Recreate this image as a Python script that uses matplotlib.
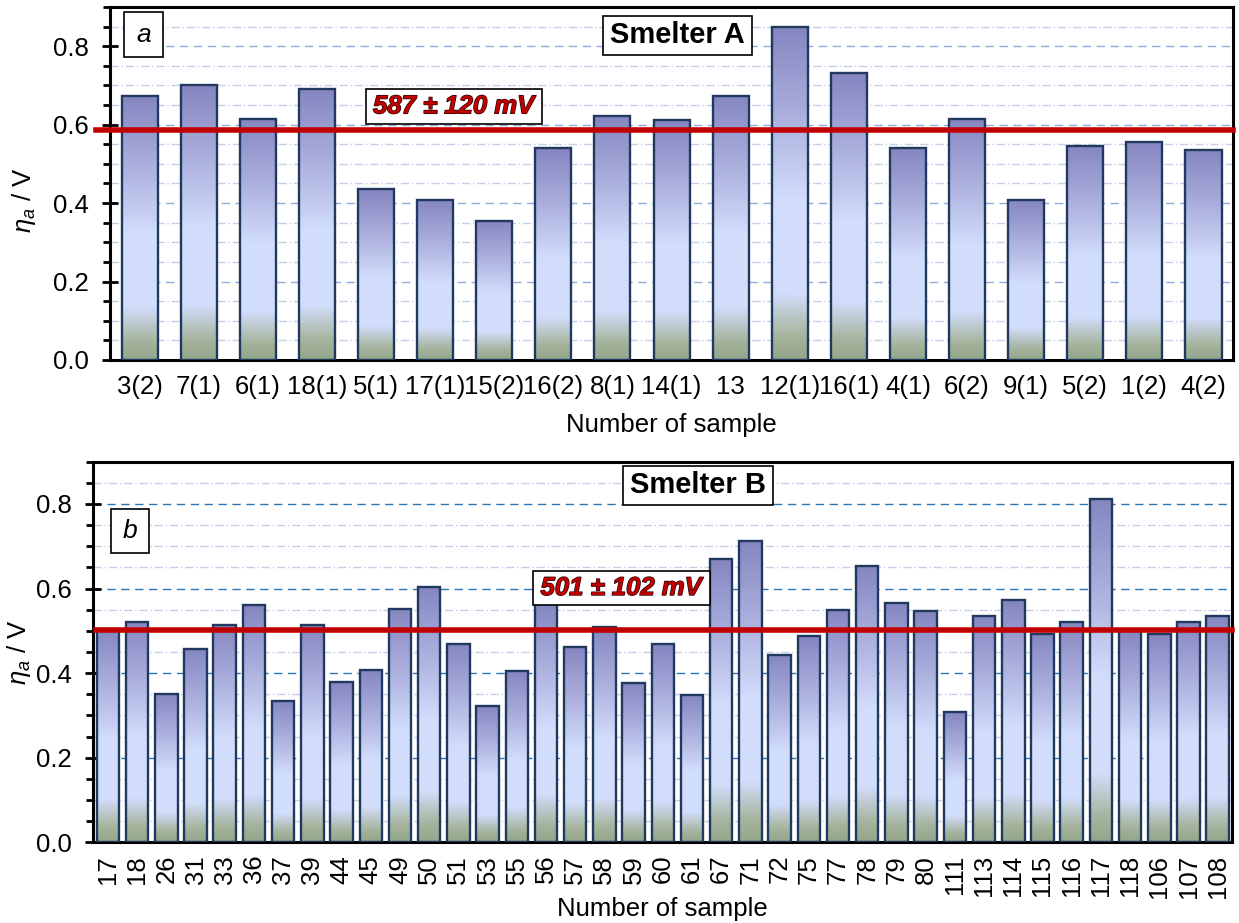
import numpy as np
import matplotlib
matplotlib.use('Agg')
import matplotlib.pyplot as plt
from matplotlib.colors import LinearSegmentedColormap
from matplotlib.patches import Rectangle
from matplotlib.ticker import MultipleLocator
import matplotlib.patheffects as pe

plt.rcParams['font.family'] = ['Liberation Sans', 'DejaVu Sans']
plt.rcParams['mathtext.fontset'] = 'custom'
plt.rcParams['mathtext.rm'] = 'Liberation Sans'
plt.rcParams['mathtext.it'] = 'Liberation Sans:italic'

# anode overvoltage per sample, V
samples_a = ['3(2)', '7(1)', '6(1)', '18(1)', '5(1)', '17(1)', '15(2)', '16(2)',
             '8(1)', '14(1)', '13', '12(1)', '16(1)', '4(1)', '6(2)', '9(1)',
             '5(2)', '1(2)', '4(2)']
eta_a = [0.673, 0.700, 0.615, 0.690, 0.436, 0.408, 0.355, 0.540, 0.622, 0.611,
         0.674, 0.849, 0.732, 0.540, 0.615, 0.408, 0.546, 0.555, 0.535]
mean_a = 0.587
label_mean_a = '587 ± 120 mV'

samples_b = ['17', '18', '26', '31', '33', '36', '37', '39', '44', '45', '49', '50',
             '51', '53', '55', '56', '57', '58', '59', '60', '61', '67', '71', '72',
             '75', '77', '78', '79', '80', '111', '113', '114', '115', '116', '117',
             '118', '106', '107', '108']
eta_b = [0.505, 0.521, 0.350, 0.458, 0.515, 0.560, 0.334, 0.515, 0.378, 0.408,
         0.552, 0.604, 0.470, 0.322, 0.404, 0.565, 0.463, 0.510, 0.376, 0.468,
         0.348, 0.671, 0.712, 0.444, 0.487, 0.550, 0.654, 0.567, 0.546, 0.307,
         0.536, 0.572, 0.492, 0.522, 0.812, 0.503, 0.492, 0.522, 0.534]
mean_b = 0.501
label_mean_b = '501 ± 102 mV'

bar_cmap = LinearSegmentedColormap.from_list('bar', [
    (0.00, '#93a68a'), (0.07, '#a5b49d'), (0.20, '#d2ddfb'),
    (0.48, '#d2ddfb'), (0.72, '#adb2df'), (1.00, '#8586c1')])
grad = np.linspace(0, 1, 256).reshape(-1, 1)

FS = 18.5


def gradient_bars(ax, values, width):
    x = np.arange(len(values))
    bars = ax.bar(x, values, width=width, facecolor='none',
                  edgecolor='#22395f', linewidth=1.7, zorder=3)
    for b in bars:
        im = ax.imshow(grad, cmap=bar_cmap, origin='lower', aspect='auto',
                       extent=(b.get_x(), b.get_x() + b.get_width(), 0, b.get_height()),
                       zorder=2, interpolation='bilinear')
        im.set_clip_path(b)
    return bars


def label_box(ax, x0, x1, y0, y1, text, **kw):
    ax.add_patch(Rectangle((x0, y0), x1 - x0, y1 - y0, transform=ax.transAxes,
                           facecolor='white', edgecolor='black', linewidth=1.2,
                           zorder=6, clip_on=False))
    return ax.text((x0 + x1) / 2, (y0 + y1) / 2, text, transform=ax.transAxes,
                   ha='center', va='center', zorder=7, **kw)


def style_axes(ax, labels, major_grid, rotation=0, pad=12):
    ax.set_ylim(0, 0.9)
    ax.set_xlim(-0.5, len(labels) - 0.5)
    ax.yaxis.set_major_locator(MultipleLocator(0.2))
    ax.yaxis.set_minor_locator(MultipleLocator(0.05))
    ax.yaxis.set_major_formatter(matplotlib.ticker.FormatStrFormatter('%.1f'))
    ax.set_xticks(np.arange(len(labels)))
    ax.set_xticklabels(labels, rotation=rotation)
    ax.tick_params(axis='x', length=0, pad=pad, labelsize=FS)
    ax.tick_params(axis='y', which='major', direction='inout', length=11,
                   width=2, pad=10, labelsize=FS)
    ax.tick_params(axis='y', which='minor', direction='out', length=5, width=2)
    for s in ax.spines.values():
        s.set_linewidth(2.2)
    ax.grid(axis='y', which='major', color=major_grid, linestyle=(0, (6, 4)),
            linewidth=1.0, zorder=0)
    ax.grid(axis='y', which='minor', color='#c3d0e6', linestyle=(0, (6, 2, 1, 2)),
            linewidth=1.0, zorder=0)
    ax.set_axisbelow(True)


fig = plt.figure(figsize=(12.39, 9.23), dpi=100)
ax1 = fig.add_axes([0.0888, 0.6100, 0.9064, 0.3824])
ax2 = fig.add_axes([0.0753, 0.0874, 0.9193, 0.4124])

mean_style = dict(fontsize=18.5, fontweight='bold', fontstyle='italic',
                  color='#c00000',
                  path_effects=[pe.withStroke(linewidth=1.0, foreground='#2a0505')])

# panel a: smelter A
gradient_bars(ax1, eta_a, 0.61)
style_axes(ax1, samples_a, '#8faadc', pad=11)
ax1.axhline(mean_a, xmin=-0.0125, xmax=1, color='#c00000', linewidth=4,
            zorder=4, clip_on=False)
label_box(ax1, 0.0125, 0.0472, 0.8584, 0.9858, 'a', fontsize=19, fontstyle='italic')
label_box(ax1, 0.4387, 0.5713, 0.8640, 0.9754, 'Smelter A', fontsize=21,
          fontweight='bold')
label_box(ax1, 0.2277, 0.3847, 0.6686, 0.7686, label_mean_a, **mean_style)
ax1.set_ylabel(r'$\eta_a$ / V', fontsize=FS)
ax1.yaxis.set_label_coords(-0.064, 0.453)
ax1.set_xlabel('Number of sample', fontsize=FS, va='top')
ax1.xaxis.set_label_coords(0.5, -0.150)

# panel b: smelter B
gradient_bars(ax2, eta_b, 0.77)
style_axes(ax2, samples_b, '#2e75b6', rotation=90, pad=9)
ax2.axhline(mean_b, xmin=0.0025, xmax=1, color='#c00000', linewidth=4,
            zorder=4, clip_on=False)
label_box(ax2, 0.0155, 0.0489, 0.7601, 0.8765, 'b', fontsize=19, fontstyle='italic')
label_box(ax2, 0.4648, 0.5970, 0.8862, 0.9887, 'Smelter B', fontsize=21,
          fontweight='bold')
label_box(ax2, 0.3858, 0.5415, 0.6227, 0.7136, label_mean_b, **mean_style)
ax2.set_ylabel(r'$\eta_a$ / V', fontsize=FS)
ax2.yaxis.set_label_coords(-0.053, 0.5)
ax2.set_xlabel('Number of sample', fontsize=FS, va='top')
ax2.xaxis.set_label_coords(0.5, -0.143)

fig.savefig('out.png', dpi=100)
